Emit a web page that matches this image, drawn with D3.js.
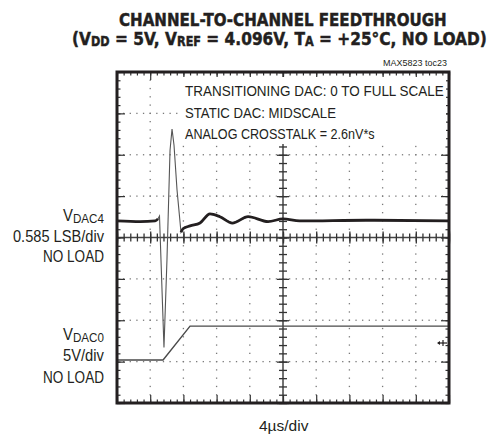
<!DOCTYPE html>
<html>
<head>
<meta charset="utf-8">
<script src="https://cdn.jsdelivr.net/npm/d3@7/dist/d3.min.js"></script>
<style>
  html, body { margin: 0; padding: 0; background: #fff; }
  svg { display: block; }
</style>
</head>
<body>
<script>
// Time axis: 4 µs/div, 10 divisions
const timeDomain = [0, 40];
// Vertical graticule: 8 divisions, centred at 0
const divDomain = [-4, 4];

// VDAC4 (static channel), 0.585 LSB/div, values in LSB relative to its resting level
const ch4Time = [0, 2.8, 4.6, 4.94, 5.12, 5.66, 6.02, 6.39, 6.63, 6.87, 7.23, 7.71, 7.95, 8.8, 10.0, 11.2, 12.4, 13.9, 15.8, 18.2, 20.0, 22.0, 30.0, 40.0];
const ch4Lsb  = [0, -0.01, 0, 0.03, 0.07, -1.79, -0.55, 1.00, 1.30, 1.07, 0.44, -0.16, -0.11, -0.07, -0.03, 0.10, 0.06, -0.03, 0.06, -0.01, 0.03, 0, 0.01, 0];
const ch4Offset = 0.4;      // resting level, in divisions above centre
const ch4PerDiv = 0.585;    // LSB per division

// VDAC0 (transitioning channel), 5 V/div
const ch0Time  = [0, 5.55, 8.8, 40];
const ch0Volts = [0, 0, 4.096, 4.096];
const ch0Offset = -2.96;    // 0 V level, in divisions
const ch0PerDiv = 5;

const W = 498, H = 436;
const L = 117, R = 449, T = 72, B = 403;
const ink = "#231f20";

const svg = d3.select("body").append("svg").attr("width", W).attr("height", H);

const x = d3.scaleLinear().domain(timeDomain).range([L, R]);
const y = d3.scaleLinear().domain(divDomain).range([B, T]);

// Graticule tick positions (0.2 div steps)
const xMinor = d3.range(0, 40.001, 0.8).map(v => +v.toFixed(2));
const xMajor = d3.range(0, 40.001, 4);
const yMinor = d3.range(-4, 4.001, 0.2).map(v => +v.toFixed(2));
const yMajor = d3.range(-4, 4.001, 1);

// Dotted grid lines
const grid = svg.append("g").attr("fill", "#7a7a7a");
xMajor.slice(1, -1).forEach(t => {
  if (t === 20) return;
  yMinor.forEach(d => grid.append("rect").attr("x", x(t) - 0.65).attr("y", y(d) - 0.65).attr("width", 1.3).attr("height", 1.3));
});
yMajor.slice(1, -1).forEach(d => {
  if (d === 0) return;
  xMinor.forEach(t => grid.append("rect").attr("x", x(t) - 0.65).attr("y", y(d) - 0.65).attr("width", 1.3).attr("height", 1.3));
});

// Axis helper with blank labels
function tickAxis(axisFn, scale, values, size) {
  return axisFn(scale).tickValues(values).tickSize(size).tickSizeOuter(0).tickFormat(() => "");
}
function drawAxis(gen, tx, ty, width, color) {
  const g = svg.append("g").attr("transform", `translate(${tx},${ty})`).call(gen);
  g.select(".domain").remove();
  g.selectAll("text").remove();
  g.selectAll("line").attr("stroke", color).attr("stroke-width", width);
  return g;
}

// Centre cross with ticks on both sides
const cx = x(20), cy = y(0);
svg.append("line").attr("x1", L).attr("x2", R).attr("y1", cy).attr("y2", cy).attr("stroke", "#444").attr("stroke-width", 1.5);
svg.append("line").attr("x1", cx).attr("x2", cx).attr("y1", T).attr("y2", B).attr("stroke", "#444").attr("stroke-width", 1.5);
[d3.axisTop, d3.axisBottom].forEach(f => {
  drawAxis(tickAxis(f, x, xMinor, 4), 0, cy, 1.3, "#333");
  drawAxis(tickAxis(f, x, xMajor, 6), 0, cy, 1.3, "#333");
});
[d3.axisLeft, d3.axisRight].forEach(f => {
  drawAxis(tickAxis(f, y, yMinor, 4), cx, 0, 1.3, "#333");
  drawAxis(tickAxis(f, y, yMajor, 6), cx, 0, 1.3, "#333");
});

// Frame ticks, pointing inward
drawAxis(tickAxis(d3.axisBottom, x, xMinor, 3.5), 0, T, 1.2, "#333");
drawAxis(tickAxis(d3.axisBottom, x, xMajor, 8), 0, T, 1.2, "#333");
drawAxis(tickAxis(d3.axisTop, x, xMinor, 3.5), 0, B, 1.2, "#333");
drawAxis(tickAxis(d3.axisTop, x, xMajor, 8), 0, B, 1.2, "#333");
drawAxis(tickAxis(d3.axisRight, y, yMinor, 3.5), L, 0, 1.2, "#333");
drawAxis(tickAxis(d3.axisRight, y, yMajor, 8), L, 0, 1.2, "#333");
drawAxis(tickAxis(d3.axisLeft, y, yMinor, 3.5), R, 0, 1.2, "#333");
drawAxis(tickAxis(d3.axisLeft, y, yMajor, 8), R, 0, 1.2, "#333");

// Squeeze a text horizontally so it spans [x0, x0 + width]
function fitText(sel, x0, width) {
  const bb = sel.node().getBBox();
  const sx = width / bb.width;
  sel.attr("transform", `translate(${x0},0) scale(${sx},1) translate(${-bb.x},0)`);
}

const lightFont = "'Liberation Sans', Arial, sans-serif";

// Annotation box inside the plot
svg.append("rect").attr("x", 181).attr("y", 77).attr("width", R - 184).attr("height", 67).attr("fill", "#fff");
const note = svg.append("g").attr("font-family", lightFont).attr("font-size", 15.5).attr("fill", ink);
fitText(note.append("text").attr("y", 96).text("TRANSITIONING DAC: 0 TO FULL SCALE"), 185, 259);
fitText(note.append("text").attr("y", 118).text("STATIC DAC: MIDSCALE"), 185, 151);
fitText(note.append("text").attr("y", 139).text("ANALOG CROSSTALK = 2.6nV*s"), 185, 190);

// Traces
const line = d3.line().x(d => x(d[0])).y(d => d[1]);
const ch0 = ch0Time.map((t, i) => [t, y(ch0Offset + ch0Volts[i] / ch0PerDiv)]);
svg.append("path").attr("d", line(ch0)).attr("fill", "none").attr("stroke", "#4a4a4a").attr("stroke-width", 1.4);

const ch4 = ch4Time.map((t, i) => [t, y(ch4Offset + ch4Lsb[i] / ch4PerDiv)]);
// Fast edges render faint and thin
svg.append("path").attr("d", line(ch4)).attr("fill", "none").attr("stroke", "#555").attr("stroke-width", 1.1);
// Slow portions render thick
const slowLine = d3.line().x(d => x(d[0])).y(d => d[1]).curve(d3.curveMonotoneX);
svg.append("path").attr("d", slowLine(ch4.slice(0, 4))).attr("fill", "none").attr("stroke", ink).attr("stroke-width", 2.8);
svg.append("path").attr("d", slowLine(ch4.slice(11))).attr("fill", "none").attr("stroke", ink).attr("stroke-width", 2.8);

// Ground marker on the right edge
const gy = y(-2.55);
svg.append("line").attr("x1", R - 11).attr("x2", R - 2).attr("y1", gy).attr("y2", gy).attr("stroke", ink).attr("stroke-width", 1.2);
svg.append("line").attr("x1", R - 6).attr("x2", R - 6).attr("y1", gy - 3).attr("y2", gy + 3).attr("stroke", ink).attr("stroke-width", 1.2);
svg.append("path").attr("d", `M${R - 12},${gy} l3,-2 v4 z`).attr("fill", ink);

// Frame
svg.append("rect").attr("x", L).attr("y", T).attr("width", R - L).attr("height", B - T)
  .attr("fill", "none").attr("stroke", ink).attr("stroke-width", 3);

// Title
const title = svg.append("g")
  .attr("font-family", "'DejaVu Sans', sans-serif")
  .attr("font-weight", "bold")
  .attr("fill", ink).attr("stroke", ink).attr("stroke-width", 0.5);
fitText(title.append("text").attr("y", 26).attr("font-size", 18.5).text("CHANNEL-TO-CHANNEL FEEDTHROUGH"), 119, 328);
const t2 = title.append("text").attr("y", 45).attr("font-size", 18.5);
const parts = [["(V", 0], ["DD", 1], [" = 5V, V", 0], ["REF", 1], [" = 4.096V, T", 0], ["A", 1], [" = +25°C, NO LOAD)", 0]];
let prevSub = 0;
parts.forEach(([s, sub]) => {
  t2.append("tspan").attr("font-size", sub ? 13.5 : 18.5).attr("dy", sub ? 1.5 : (prevSub ? -1.5 : 0)).text(s);
  prevSub = sub;
});
fitText(t2, 72, 415);

fitText(svg.append("text").attr("y", 66)
  .attr("font-family", lightFont)
  .attr("font-size", 9.5).attr("fill", ink).text("MAX5823 toc23"), 383, 64);

// Channel labels, right-aligned at x = 104
const lab = svg.append("g").attr("font-family", lightFont).attr("font-size", 16).attr("fill", ink);
function rightFit(sel, width) { fitText(sel, 104 - width, width); }
function subLabel(yy, main, sub, width) {
  const t = lab.append("text").attr("y", yy);
  t.append("tspan").text(main);
  t.append("tspan").attr("font-size", 12.5).attr("dy", 2).text(sub);
  rightFit(t, width);
}
subLabel(221, "V", "DAC4", 41);
rightFit(lab.append("text").attr("y", 242).text("0.585 LSB/div"), 91);
rightFit(lab.append("text").attr("y", 262).text("NO LOAD"), 61);
subLabel(340, "V", "DAC0", 41);
rightFit(lab.append("text").attr("y", 361).text("5V/div"), 41);
rightFit(lab.append("text").attr("y", 383).text("NO LOAD"), 61);

// Horizontal scale
fitText(svg.append("text").attr("y", 431)
  .attr("font-family", lightFont)
  .attr("font-size", 15).attr("fill", ink).text("4µs/div"), 259, 50);
</script>
</body>
</html>
